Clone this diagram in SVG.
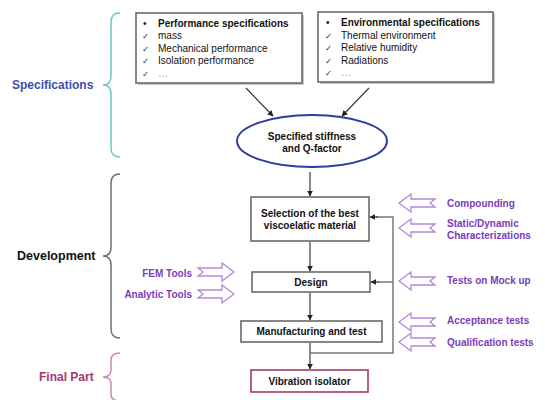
<svg xmlns="http://www.w3.org/2000/svg" width="545" height="400" viewBox="0 0 545 400">
<style>
text{font-family:"Liberation Sans",Arial,sans-serif}
.b{font-weight:bold}
.box{fill:#fff;stroke:#6a6a6a;stroke-width:1.6}
.sh{fill:#c8c8c8}
.t10{font-size:10px;fill:#111}
.dots{font-size:10px;fill:#9a9a9a}
.ck{font-family:"DejaVu Sans",sans-serif;font-size:8.5px;fill:#3a3a3a}
.pl{font-size:10px;font-weight:bold;fill:#7b3db8}
.ha{fill:#fff;stroke:#b586d9;stroke-width:1.3}
.con{fill:none;stroke:#3a3a3a;stroke-width:1.2}
.fb{fill:none;stroke:#7a7a7a;stroke-width:1.5}
.br{fill:none;stroke-width:1.5}
</style>
<defs>
<marker id="ah" viewBox="0 0 10 10" refX="9" refY="5" markerWidth="6" markerHeight="6" orient="auto" markerUnits="userSpaceOnUse">
<path d="M0,0 L10,5 L0,10 Z" fill="#222"/>
</marker>
<path id="harR" d="M0,-4 L24,-4 L24,-9 L36,0 L24,9 L24,4 L0,4 L5,0 Z"/>
<path id="harL" d="M0,-4 L-24,-4 L-24,-9 L-36,0 L-24,9 L-24,4 L0,4 L-5,0 Z"/>
</defs>

<g id="labels">
<text x="12" y="89" class="b" font-size="12" fill="#3f4fb0">Specifications</text>
<text x="17" y="260" class="b" font-size="12.5" fill="#111">Development</text>
<text x="39" y="381" class="b" font-size="12" fill="#a3386f">Final Part</text>
</g>

<g id="brackets">
<path class="br" stroke="#6cc6c2" d="M120,13 Q111,13 111,22 L111,76 Q111,85 103,85 Q111,85 111,94 L111,148 Q111,157 120,157"/>
<path class="br" stroke="#6f6f6f" d="M120,174 Q111,174 111,183 L111,247 Q111,256 103,256 Q111,256 111,265 L111,329 Q111,338 120,338"/>
<path class="br" stroke="#c98bb0" d="M120,353 Q111,353 111,360 L111,370 Q111,377 103,377 Q111,377 111,384 L111,394 Q111,401 120,401"/>
</g>

<g id="perf">
<rect class="sh" x="138" y="15" width="166" height="70"/>
<rect class="box" x="136" y="13" width="166" height="70"/>
<text x="143" y="26.5" class="t10">•</text>
<text x="158" y="26.5" class="t10 b">Performance specifications</text>
<text x="142" y="39" class="ck">✓</text><text x="158" y="39" class="t10">mass</text>
<text x="142" y="51.5" class="ck">✓</text><text x="158" y="51.5" class="t10">Mechanical performance</text>
<text x="142" y="64" class="ck">✓</text><text x="158" y="64" class="t10">Isolation performance</text>
<text x="142" y="76.5" class="ck">✓</text><text x="158" y="76.5" class="dots">…</text>
</g>

<g id="env">
<rect class="sh" x="320" y="14" width="175" height="70"/>
<rect class="box" x="318" y="12" width="175" height="70"/>
<text x="326" y="26" class="t10">•</text>
<text x="341" y="26" class="t10 b">Environmental specifications</text>
<text x="325" y="38.5" class="ck">✓</text><text x="341" y="38.5" class="t10">Thermal environment</text>
<text x="325" y="51" class="ck">✓</text><text x="341" y="51" class="t10">Relative humidity</text>
<text x="325" y="63.5" class="ck">✓</text><text x="341" y="63.5" class="t10">Radiations</text>
<text x="325" y="76" class="ck">✓</text><text x="341" y="76" class="dots">…</text>
</g>

<g id="stiffness">
<ellipse cx="312" cy="141" rx="75" ry="26" fill="#fff" stroke="#2d3d9c" stroke-width="2"/>
<text x="312" y="139.5" text-anchor="middle" class="t10 b">Specified stiffness</text>
<text x="312" y="151.5" text-anchor="middle" class="t10 b">and Q-factor</text>
</g>

<g id="selection">
<rect class="box" x="251" y="197" width="118" height="44"/>
<text x="310" y="216.5" text-anchor="middle" class="t10 b">Selection of the best</text>
<text x="310" y="228.5" text-anchor="middle" class="t10 b">viscoelatic material</text>
</g>

<g id="design">
<rect class="box" x="252" y="272" width="118" height="20"/>
<text x="311" y="285.5" text-anchor="middle" class="t10 b">Design</text>
</g>

<g id="manufacturing">
<rect class="box" x="241" y="321" width="141" height="21"/>
<text x="311.5" y="335" text-anchor="middle" class="t10 b">Manufacturing and test</text>
</g>

<g id="isolator">
<rect x="251" y="370" width="117" height="22" fill="#fff" stroke="#a3386f" stroke-width="1.6"/>
<text x="309.5" y="384.5" text-anchor="middle" class="t10 b">Vibration isolator</text>
</g>

<g id="tools-left">
<text x="192" y="276.5" text-anchor="end" class="pl">FEM Tools</text>
<text x="192" y="297.5" text-anchor="end" class="pl">Analytic Tools</text>
<use href="#harR" class="ha" x="198" y="272"/>
<use href="#harR" class="ha" x="198" y="294"/>
</g>

<g id="inputs-right">
<use href="#harL" class="ha" x="435" y="203"/>
<use href="#harL" class="ha" x="435" y="228"/>
<use href="#harL" class="ha" x="435" y="281"/>
<use href="#harL" class="ha" x="435" y="322"/>
<use href="#harL" class="ha" x="435" y="342"/>
<text x="447" y="206.5" class="pl">Compounding</text>
<text x="447" y="226.5" class="pl">Static/Dynamic</text>
<text x="447" y="238.5" class="pl">Characterizations</text>
<text x="447" y="284" class="pl">Tests on Mock up</text>
<text x="447" y="324" class="pl">Acceptance tests</text>
<text x="447" y="345.5" class="pl">Qualification tests</text>
</g>

<g id="connectors">
<line class="con" x1="246" y1="88" x2="273" y2="116" marker-end="url(#ah)"/>
<line class="con" x1="369" y1="88" x2="342" y2="116" marker-end="url(#ah)"/>
<line class="con" x1="310" y1="172" x2="310" y2="196" marker-end="url(#ah)"/>
<line class="con" x1="310" y1="242" x2="310" y2="271" marker-end="url(#ah)"/>
<line class="con" x1="310" y1="293" x2="310" y2="320" marker-end="url(#ah)"/>
<line class="con" x1="310" y1="343" x2="310" y2="369" marker-end="url(#ah)"/>
<polyline class="fb" points="310,353 393,353 393,217 376,217"/>
<line class="con" x1="378" y1="217" x2="370" y2="217" marker-end="url(#ah)"/>
<line class="fb" x1="393" y1="282" x2="378" y2="282"/>
<line class="con" x1="379" y1="282" x2="371" y2="282" marker-end="url(#ah)"/>
</g>
</svg>
